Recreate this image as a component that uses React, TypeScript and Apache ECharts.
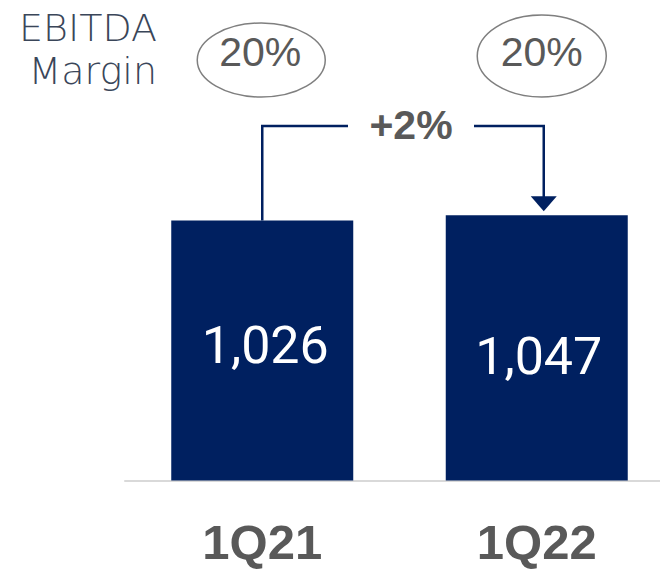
import React, { useEffect, useRef } from "react";
import * as echarts from "echarts";

const categories = ["1Q21", "1Q22"];
const ebitda = [1026, 1047];
const margins = ["20%", "20%"];
const growthLabel = "+2%";
const sideTitle = ["EBITDA", "Margin"];

const NAVY = "#002060";
const GRAY = "#595959";

export default function App() {
  const ref = useRef<HTMLDivElement>(null);
  useEffect(() => {
    if (!ref.current) return;
    document.body.style.margin = "0";
    const chart = echarts.init(ref.current, null, { renderer: "svg" });
    const labelOffsets = [
      [3, -5],
      [2, 9],
    ];
    chart.setOption({
      animation: false,
      grid: {
        left: 125,
        width: 549,
        top: 24.5,
        bottom: 88.5,
        containLabel: false,
        outerBoundsMode: "none",
      },
      xAxis: {
        type: "category",
        data: categories,
        axisLine: { show: true, lineStyle: { color: "#d9d9d9", width: 2 } },
        axisTick: { show: false },
        axisLabel: {
          color: GRAY,
          fontSize: 49,
          lineHeight: 40,
          fontWeight: "bold",
          fontFamily: "'Liberation Sans', Arial, sans-serif",
          verticalAlign: "middle",
          margin: 61,
        },
      },
      yAxis: {
        type: "value",
        min: 0,
        max: 1800,
        show: false,
        splitLine: { show: false },
      },
      series: [
        {
          type: "bar",
          barWidth: 182,
          data: ebitda.map((v, i) => ({
            value: v,
            label: { offset: labelOffsets[i] },
          })),
          itemStyle: { color: NAVY },
          label: {
            show: true,
            position: "inside",
            color: "#ffffff",
            fontSize: 52,
            fontFamily: "Roboto, sans-serif",
            formatter: (p: any) => p.value.toLocaleString("en-US"),
          },
        },
      ],
    });

    const x1 = chart.convertToPixel({ xAxisIndex: 0 }, categories[0]) as number;
    const x2 = chart.convertToPixel({ xAxisIndex: 0 }, categories[1]) as number;
    const top1 = chart.convertToPixel({ yAxisIndex: 0 }, ebitda[0]) as number;
    const top2 = chart.convertToPixel({ yAxisIndex: 0 }, ebitda[1]) as number;
    const bracketY = 126;
    const arrowX = x2 + 7;
    const tipY = top2 - 4;

    chart.setOption({
      graphic: [
        {
          type: "text",
          x: 157,
          y: 28,
          style: {
            text: sideTitle[0],
            align: "right",
            verticalAlign: "middle",
            fill: "#3A4659",
            fontSize: 38,
            fontWeight: 200,
            fontFamily: "'DejaVu Sans', sans-serif",
          },
        },
        {
          type: "text",
          x: 157,
          y: 71,
          style: {
            text: sideTitle[1],
            align: "right",
            verticalAlign: "middle",
            fill: "#3A4659",
            fontSize: 38,
            fontWeight: 200,
            fontFamily: "'DejaVu Sans', sans-serif",
          },
        },
        {
          type: "ellipse",
          shape: { cx: x1 - 1, cy: 60, rx: 64, ry: 37 },
          style: { fill: "none", stroke: "#7f7f7f", lineWidth: 1.5 },
        },
        {
          type: "ellipse",
          shape: { cx: x2 + 5, cy: 56, rx: 64.5, ry: 41 },
          style: { fill: "none", stroke: "#7f7f7f", lineWidth: 1.5 },
        },
        {
          type: "text",
          x: x1 - 2,
          y: 52,
          style: {
            text: margins[0],
            align: "center",
            verticalAlign: "middle",
            fill: GRAY,
            fontSize: 41,
            fontFamily: "'Liberation Sans', Arial, sans-serif",
          },
        },
        {
          type: "text",
          x: x2 + 5,
          y: 52,
          style: {
            text: margins[1],
            align: "center",
            verticalAlign: "middle",
            fill: GRAY,
            fontSize: 41,
            fontFamily: "'Liberation Sans', Arial, sans-serif",
          },
        },
        {
          type: "polyline",
          shape: { points: [[x1, top1], [x1, bracketY], [348, bracketY]] },
          style: { stroke: NAVY, lineWidth: 2.5, fill: "none" },
        },
        {
          type: "polyline",
          shape: { points: [[474, bracketY], [arrowX, bracketY], [arrowX, tipY - 14]] },
          style: { stroke: NAVY, lineWidth: 2.5, fill: "none" },
        },
        {
          type: "polygon",
          shape: { points: [[arrowX - 13, tipY - 15], [arrowX + 13, tipY - 15], [arrowX, tipY]] },
          style: { fill: NAVY },
        },
        {
          type: "text",
          x: 411,
          y: 125,
          style: {
            text: growthLabel,
            align: "center",
            verticalAlign: "middle",
            fill: GRAY,
            fontSize: 41,
            fontWeight: "bold",
            fontFamily: "'Liberation Sans', Arial, sans-serif",
          },
        },
      ],
    });
    return () => chart.dispose();
  }, []);
  return <div ref={ref} style={{ width: 660, height: 569 }} />;
}
